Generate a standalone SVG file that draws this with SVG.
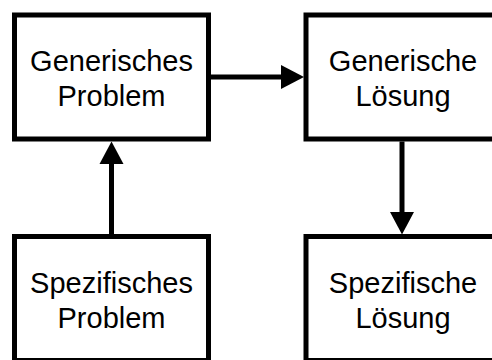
<svg xmlns="http://www.w3.org/2000/svg" width="492" height="360" viewBox="0 0 492 360">
  <style>
    .box { fill: #ffffff; stroke: #000000; stroke-width: 5; }
    .label { font-family: "Liberation Sans", Arial, sans-serif; font-size: 29px; fill: #000000; text-anchor: middle; }
    .edge { stroke: #000000; stroke-width: 5; fill: none; }
    .head { fill: #000000; }
  </style>
  <rect width="492" height="360" fill="#ffffff"/>
  <g id="generic-problem">
    <rect class="box" x="14.5" y="15" width="194" height="124"/>
    <text class="label" x="111.5" y="71">Generisches</text>
    <text class="label" x="111.5" y="106">Problem</text>
  </g>
  <g id="generic-solution">
    <rect class="box" x="306" y="15" width="194" height="124"/>
    <text class="label" x="403" y="71">Generische</text>
    <text class="label" x="403" y="106">Lösung</text>
  </g>
  <g id="specific-problem">
    <rect class="box" x="14.5" y="236.5" width="194" height="124"/>
    <text class="label" x="111.5" y="292.5">Spezifisches</text>
    <text class="label" x="111.5" y="327.5">Problem</text>
  </g>
  <g id="specific-solution">
    <rect class="box" x="306" y="236.5" width="194" height="124"/>
    <text class="label" x="403" y="292.5">Spezifische</text>
    <text class="label" x="403" y="327.5">Lösung</text>
  </g>
  <g id="connectors">
    <line class="edge" x1="211" y1="77" x2="282" y2="77"/>
    <polygon class="head" points="281,65 304,77 281,89"/>
    <line class="edge" x1="111.5" y1="234" x2="111.5" y2="163"/>
    <polygon class="head" points="99.5,164 111.5,141.5 123.5,164"/>
    <line class="edge" x1="402" y1="141.5" x2="402" y2="213"/>
    <polygon class="head" points="390,212 402,234.5 414,212"/>
  </g>
</svg>
